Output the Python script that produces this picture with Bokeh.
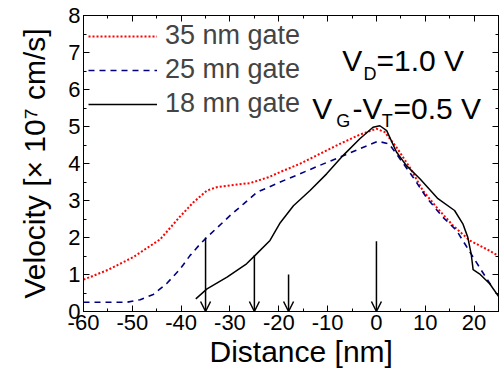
from bokeh.plotting import figure
from bokeh.models import (LinearAxis, SingleIntervalTicker, Range1d, Label, Arrow, Title,
                          OpenHead, CustomLabelingPolicy, CustomJSTickFormatter)
from bokeh.embed import file_html
from bokeh.resources import INLINE

# ---- data ----
x_35 = [-60, -54.9, -49.8, -44.3, -40.2, -37.5, -34.7, -32.7, -28.6, -25.9, -22.1, -19.7,
        -15.7, -11.6, -7.5, -3.4, 0.0, 1.7, 4.1, 6.8, 9.5, 12.3, 15.7, 19.1, 22.5, 25.0]
v_35 = [0.86, 1.13, 1.47, 1.95, 2.57, 2.95, 3.27, 3.36, 3.43, 3.47, 3.63, 3.77,
        3.99, 4.26, 4.53, 4.78, 4.94, 4.85, 4.44, 3.90, 3.27, 2.82, 2.32, 1.92, 1.69, 1.50]

x_25 = [-60, -51.1, -48.4, -45.7, -43.0, -40.2, -38.2, -36.2, -35.0, -30.0, -27.2, -24.5,
        -22.1, -19.7, -15.7, -11.6, -7.5, -3.4, 0.3, 2.6, 4.8, 7.5, 10.2, 13.6, 16.4, 18.1,
        19.8, 21.5, 23.5, 23.8]
v_25 = [0.25, 0.25, 0.32, 0.46, 0.75, 1.15, 1.51, 1.81, 1.97, 2.59, 2.91, 3.22,
        3.36, 3.50, 3.72, 3.95, 4.17, 4.40, 4.60, 4.53, 4.13, 3.63, 3.09, 2.55, 2.19, 1.83,
        1.47, 1.11, 0.70, 0.65]

x_18 = [-37.0, -34.7, -30.6, -26.6, -24.9, -21.8, -19.7, -17.0, -13.6, -10.2, -6.8, -3.4,
        -0.7, 0.7, 2.1, 4.1, 6.1, 8.9, 12.6, 16.0, 17.7, 18.7, 19.4, 19.8, 21.1, 23.2, 25.0]
v_18 = [0.34, 0.61, 0.93, 1.29, 1.51, 1.92, 2.40, 2.86, 3.27, 3.72, 4.22, 4.67,
        4.98, 5.02, 4.89, 4.31, 3.95, 3.59, 3.05, 2.73, 2.37, 2.01, 1.56, 1.13, 1.02, 0.75, 0.41]

arrow_x = [-35, -25, -18, 0]
arrow_top = [2.0, 1.52, 1.0, 1.9]

series_labels = ["35 nm gate", "25 mn gate", "18 mn gate"]
x_ticks_interval = 10
y_ticks_interval = 1

FONT = "Liberation Sans"

p = figure(width=503, height=379, output_backend="svg", toolbar_location=None,
           x_range=Range1d(-60, 25), y_range=Range1d(0, 8),
           min_border_left=83, min_border_right=5, min_border_top=15, min_border_bottom=68,
           y_axis_label="Velocity [× 10\u2077 cm/s]")
p.background_fill_color = "white"
p.border_fill_color = "white"
p.outline_line_color = "black"
p.outline_line_width = 1
p.grid.visible = False

p.xaxis.ticker = SingleIntervalTicker(interval=x_ticks_interval, num_minor_ticks=2)
p.yaxis.ticker = SingleIntervalTicker(interval=y_ticks_interval, num_minor_ticks=2)

for ax in (p.xaxis[0], p.yaxis[0]):
    ax.major_tick_in = 6
    ax.major_tick_out = 0
    ax.minor_tick_in = 3
    ax.minor_tick_out = 0
    ax.axis_line_color = "black"
    ax.major_tick_line_color = "black"
    ax.minor_tick_line_color = "black"
    ax.formatter = CustomJSTickFormatter(code="return tick.toFixed(0)")
    ax.major_label_text_font = FONT
    ax.major_label_text_font_size = "22px"
    ax.major_label_text_color = "black"
    ax.axis_label_text_font = FONT
    ax.axis_label_text_font_size = "30px"
    ax.axis_label_text_font_style = "normal"
    ax.axis_label_text_color = "black"
    ax.major_label_standoff = 3

p.yaxis.axis_label_standoff = 14

# x-axis title, placed as in the reference (slightly right of centre)
p.add_layout(Title(text="Distance [nm]", align="left", offset=126, standoff=0,
                   text_font=FONT, text_font_size="30px", text_font_style="normal",
                   text_color="black"), "below")

# mirrored axes (ticks only)
top = LinearAxis(ticker=SingleIntervalTicker(interval=x_ticks_interval, num_minor_ticks=2))
right = LinearAxis(ticker=SingleIntervalTicker(interval=y_ticks_interval, num_minor_ticks=2))
for ax in (top, right):
    ax.major_tick_in = 6
    ax.major_tick_out = 0
    ax.minor_tick_in = 3
    ax.minor_tick_out = 0
    ax.major_label_text_font_size = "1px"
    ax.major_label_standoff = 0
    ax.major_label_policy = CustomLabelingPolicy(code="return new Set()")
    ax.axis_line_color = "black"
p.add_layout(top, "above")
p.add_layout(right, "right")

p.line(x_35, v_35, line_color="#ff0000", line_width=2, line_dash="2 2", legend_label=series_labels[0])
p.line(x_25, v_25, line_color="#000080", line_width=1.6, line_dash="6 5", legend_label=series_labels[1])
p.line(x_18, v_18, line_color="black", line_width=1.5, legend_label=series_labels[2])

for xa, ya in zip(arrow_x, arrow_top):
    p.add_layout(Arrow(x_start=xa, y_start=ya, x_end=xa, y_end=0,
                       line_color="black", line_width=1.5,
                       end=OpenHead(size=10, line_color="black", line_width=1.5)))

lg = p.legend[0]
lg.location = "top_left"
lg.margin = 5
lg.padding = 0
lg.spacing = 3
lg.glyph_width = 69
lg.glyph_height = 30
lg.label_height = 30
lg.label_standoff = 8
lg.label_text_font = FONT
lg.label_text_font_size = "27px"
lg.border_line_color = None
lg.background_fill_alpha = 0

def lab(x, y, text, size):
    p.add_layout(Label(x=x, y=y, text=text, text_font=FONT, text_font_size=size,
                       text_color="black", text_baseline="alphabetic", text_align="left"))

lab(-7.0, 6.79, "V", "30px")
lab(-2.65, 6.43, "D", "18px")
lab(0.0, 6.79, "=1.0 V", "30px")
lab(-13.15, 5.49, "V", "30px")
lab(-8.25, 5.16, "G", "18px")
lab(-4.9, 5.49, "-V", "30px")
lab(1.1, 5.16, "T", "18px")
lab(3.5, 5.49, "=0.5 V", "30px")

open("out.html", "w").write(file_html(p, INLINE))
